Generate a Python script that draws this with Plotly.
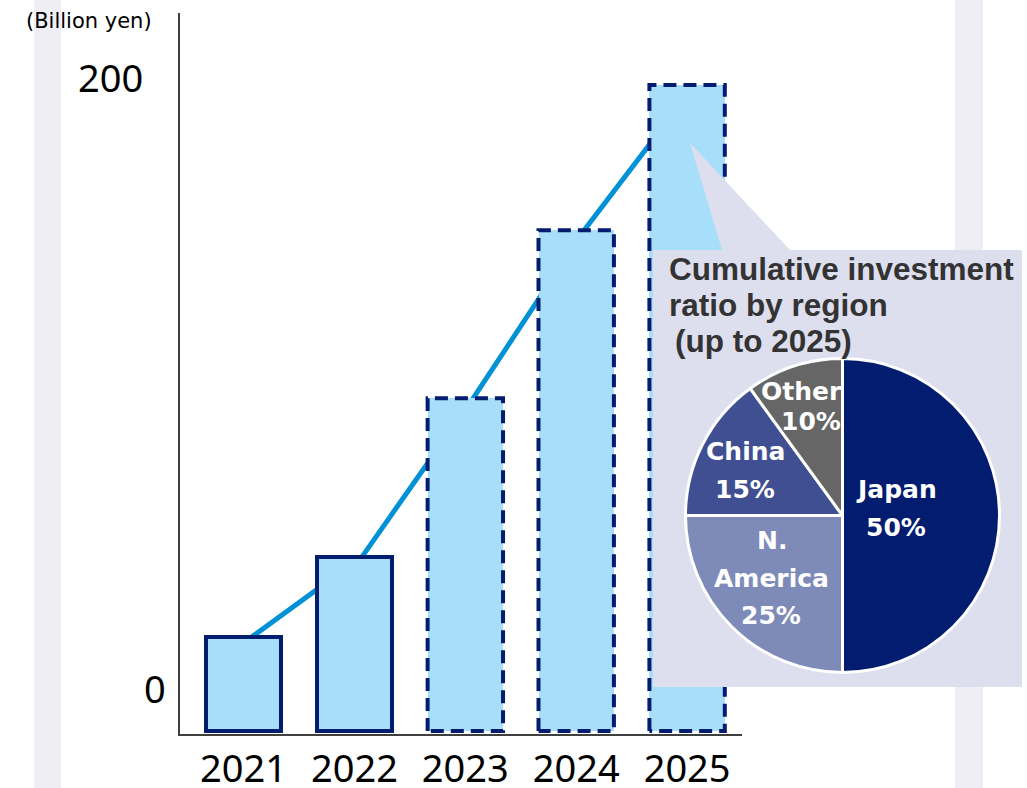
import numpy as np
import plotly.graph_objects as go

# ---------------- data ----------------
years = ["2021", "2022", "2023", "2024", "2025"]
investment = [29, 54, 103, 155, 200]          # billion yen
planned = [False, False, True, True, True]    # planned years get a dashed outline
y_tick_labels = ["0", "200"]
unit_label = "(Billion yen)"

regions = ["Japan", "N.\nAmerica", "China", "Other"]
region_share = [50, 25, 15, 10]               # percent, up to 2025
callout_title = ["Cumulative investment", "ratio by region", "(up to 2025)"]

# ---------------- styling / layout ----------------
W, H = 1027, 788
PLOT_L, PLOT_R, PLOT_T, PLOT_B = 180, 742, 13, 734
X_RANGE = [-0.573, 4.495]
Y_RANGE = [-0.93, 222.3]
BAR_W = 0.68
LINE_SHIFT = 0.07

NAVY = "#021c70"
BAR_FILL = "#a7defa"
LINE_BLUE = "#0091d6"
AXIS_GREY = "#3f3f3f"
STRIP = "#eeeef4"
CALLOUT = "#dedfee"
TITLE_GREY = "#333333"
PIE_COLORS = [NAVY, "#7e8bb8", "#3f4f92", "#666666"]

# pixel positions of free text (centre x, centre y)
Y_LABEL_POS = [(155, 688), (110, 77)]
TITLE_POS = [(667, 269), (667, 305), (673, 341)]
PIE_LABEL_POS = {
    "Japan": [(896, 489), (896, 527)],
    "N.\nAmerica": [(772, 540), (771, 578), (771, 615)],
    "China": [(745, 451), (745, 489)],
    "Other": [(801, 391), (811, 421)],
}
PIE_CENTER, PIE_R = (842.5, 515.5), 157
# callout bubble outline in pixels (box with pointer towards the 2025 bar)
CALLOUT_PATH = [(653, 250), (722, 250), (690, 143), (790, 250),
                (1022, 250), (1022, 687), (653, 687), (653, 250)]


def paper(xp, yp):
    return xp / W, 1 - yp / H


x = np.arange(len(years))
fig = go.Figure()

# growth line on the base subplot, so the bars overlay it
fig.add_trace(go.Scatter(
    x=x + LINE_SHIFT, y=investment, mode="lines",
    line=dict(color=LINE_BLUE, width=5),
    hoverinfo="skip", showlegend=False))

# bars (overlay subplot x3/y3): solid outline for actual years only
fig.add_trace(go.Bar(
    x=x, y=investment, width=BAR_W, xaxis="x3", yaxis="y3",
    marker=dict(color=BAR_FILL,
                line=dict(color=NAVY, width=[0 if p else 4 for p in planned])),
    hoverinfo="skip", showlegend=False))

# dashed outlines for planned years
for xi, v, p in zip(x, investment, planned):
    if not p:
        continue
    l, r = xi - BAR_W / 2, xi + BAR_W / 2
    fig.add_trace(go.Scatter(
        x=[l, l, r, r, l], y=[0, v, v, 0, 0], mode="lines",
        xaxis="x3", yaxis="y3",
        line=dict(color=NAVY, width=4, dash="13px,7px"),
        hoverinfo="skip", showlegend=False))

# callout bubble on a full-figure subplot (drawn above the bars)
cx, cy = zip(*CALLOUT_PATH)
fig.add_trace(go.Scatter(
    x=cx, y=cy, xaxis="x2", yaxis="y2", mode="lines", fill="toself",
    fillcolor=CALLOUT, line=dict(width=0, color=CALLOUT),
    hoverinfo="skip", showlegend=False))

# regional pie
px0, py0 = paper(PIE_CENTER[0] - PIE_R, PIE_CENTER[1] + PIE_R)
px1, py1 = paper(PIE_CENTER[0] + PIE_R, PIE_CENTER[1] - PIE_R)
fig.add_trace(go.Pie(
    labels=[r.replace("\n", " ") for r in regions], values=region_share,
    sort=False, direction="clockwise", rotation=0,
    marker=dict(colors=PIE_COLORS, line=dict(color="white", width=3)),
    textinfo="none", hoverinfo="skip", showlegend=False,
    domain=dict(x=[px0, px1], y=[py0, py1])))

annotations = []

# y-axis end labels
for txt, (xp, yp) in zip(y_tick_labels, Y_LABEL_POS):
    ax, ay = paper(xp, yp)
    annotations.append(dict(
        text=txt, x=ax, y=ay, xref="paper", yref="paper",
        xanchor="center", yanchor="middle", showarrow=False,
        font=dict(family="Noto Sans", size=38, color="black")))

# unit label
ax, ay = paper(24, 21)
annotations.append(dict(
    text=unit_label, x=ax, y=ay, xref="paper", yref="paper",
    xanchor="left", yanchor="middle", showarrow=False,
    font=dict(family="DejaVu Sans", size=21, color="black")))

# callout title
for txt, (xp, yp) in zip(callout_title, TITLE_POS):
    ax, ay = paper(xp, yp)
    annotations.append(dict(
        text=f"<b>{txt}</b>", x=ax, y=ay, xref="paper", yref="paper",
        xanchor="left", yanchor="middle", showarrow=False,
        font=dict(family="Liberation Sans", size=31.5, color=TITLE_GREY)))

# pie labels
for name, share in zip(regions, region_share):
    lines = name.split("\n") + [f"{share}%"]
    for txt, (xp, yp) in zip(lines, PIE_LABEL_POS[name]):
        ax, ay = paper(xp, yp)
        annotations.append(dict(
            text=f"<b>{txt}</b>", x=ax, y=ay, xref="paper", yref="paper",
            xanchor="center", yanchor="middle", showarrow=False,
            font=dict(family="DejaVu Sans", size=25, color="white")))

# light background strips
shapes = [
    dict(type="rect", xref="paper", yref="paper", layer="below",
         x0=x0 / W, x1=x1 / W, y0=0, y1=1, fillcolor=STRIP, line_width=0)
    for x0, x1 in [(34, 61), (955, 983)]
]

plot_domain_x = [PLOT_L / W, PLOT_R / W]
plot_domain_y = [1 - PLOT_B / H, 1 - PLOT_T / H]

fig.update_layout(
    width=W, height=H,
    margin=dict(l=0, r=0, t=0, b=0, autoexpand=False),
    paper_bgcolor="white", plot_bgcolor="rgba(0,0,0,0)",
    bargap=0, showlegend=False,
    xaxis=dict(domain=plot_domain_x, range=X_RANGE, automargin=False,
               tickvals=x, ticktext=years, ticks="",
               tickfont=dict(family="Noto Sans", size=38, color="black"),
               showline=True, linecolor=AXIS_GREY, linewidth=2,
               showgrid=False, zeroline=False, fixedrange=True),
    yaxis=dict(domain=plot_domain_y, range=Y_RANGE, automargin=False,
               showticklabels=False, ticks="",
               showline=True, linecolor=AXIS_GREY, linewidth=2,
               showgrid=False, zeroline=False, fixedrange=True),
    xaxis3=dict(overlaying="x", range=X_RANGE, anchor="y3", visible=False,
                automargin=False, fixedrange=True),
    yaxis3=dict(overlaying="y", range=Y_RANGE, anchor="x3", visible=False,
                automargin=False, fixedrange=True),
    xaxis2=dict(domain=[0, 1], range=[0, W], anchor="y2", visible=False,
                automargin=False, fixedrange=True),
    yaxis2=dict(domain=[0, 1], range=[H, 0], anchor="x2", visible=False,
                automargin=False, fixedrange=True),
    annotations=annotations,
    shapes=shapes,
)

fig.write_html("out.html")
